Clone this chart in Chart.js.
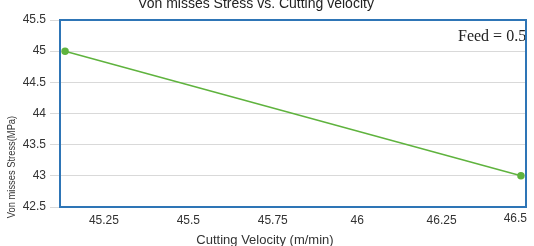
<!DOCTYPE html>
<html><head><meta charset="utf-8">
<script src="https://cdn.jsdelivr.net/npm/chart.js@4.4.1/dist/chart.umd.min.js"></script>
<style>html,body{margin:0;padding:0;background:#fff;}#wrap{width:534px;height:246px;}</style>
</head><body><div id="wrap"><canvas id="c" width="534" height="246"></canvas></div>
<script>
const velocity = [45.135, 46.485];
const stress = [45.0, 43.0];
const xTicks = [45.25, 45.5, 45.75, 46, 46.25, 46.5];
const yTicks = [42.5, 43, 43.5, 44, 44.5, 45, 45.5];
const titleText = 'Von misses Stress vs. Cutting velocity';
const xTitle = 'Cutting Velocity (m/min)';
const yTitle = 'Von misses Stress(MPa)';
const noteText = 'Feed = 0.5';
const tickFont = '12px "Liberation Sans", Arial, sans-serif';

const deco = {
  id: 'deco',
  afterDraw(chart) {
    const ctx = chart.ctx, a = chart.chartArea, xs = chart.scales.x;
    ctx.save();
    // last x tick label pulled inside the canvas
    const lastV = xTicks[xTicks.length - 1];
    ctx.fillStyle = '#333'; ctx.font = tickFont;
    ctx.textAlign = 'right'; ctx.textBaseline = 'top';
    ctx.fillText(String(lastV), xs.getPixelForValue(lastV) + 1, a.bottom + 6);
    ctx.fillStyle = '#222';
    ctx.font = '14px "Liberation Sans", Arial, sans-serif';
    ctx.textAlign = 'center'; ctx.textBaseline = 'middle';
    ctx.fillText(titleText, 256, 4);
    ctx.fillStyle = '#333';
    ctx.font = '13px "Liberation Sans", Arial, sans-serif';
    ctx.fillText(xTitle, 265, 240);
    ctx.save();
    ctx.translate(12, 167); ctx.rotate(-Math.PI/2); ctx.scale(0.85, 1);
    ctx.font = '11px "Liberation Sans", Arial, sans-serif';
    ctx.fillText(yTitle, 0, 0);
    ctx.restore();
    ctx.fillStyle = '#222';
    ctx.font = '16px "Liberation Serif", "Times New Roman", serif';
    ctx.textAlign = 'left';
    ctx.fillText(noteText, 458, 37);
    ctx.strokeStyle = '#2e75b6'; ctx.lineWidth = 2;
    ctx.strokeRect(a.left, a.top, a.right - a.left, a.bottom - a.top);
    ctx.restore();
  }
};

new Chart(document.getElementById('c'), {
  type: 'scatter',
  data: { datasets: [{
    data: velocity.map((v, i) => ({x: v, y: stress[i]})),
    showLine: true, borderColor: '#5fb33e', backgroundColor: '#5fb33e',
    borderWidth: 1.5, pointRadius: 3, pointHoverRadius: 3
  }]},
  options: {
    responsive: false, animation: false, devicePixelRatio: 1,
    layout: { padding: { top: 20, right: 8, left: 0, bottom: 0 } },
    plugins: { legend: { display: false }, tooltip: { enabled: false }, title: { display: false } },
    scales: {
      x: {
        type: 'linear', min: 45.12, max: 46.5,
        afterFit(s) { s.height = 39; s.paddingRight = 0; s.paddingLeft = 0; },
        afterBuildTicks(s) { s.ticks = xTicks.map(v => ({value: v})); },
        grid: { display: false, drawTicks: false },
        border: { display: false },
        ticks: { padding: 6, color: '#333', font: { size: 12, family: '"Liberation Sans", Arial, sans-serif' }, maxRotation: 0,
          callback: v => (v === xTicks[xTicks.length - 1] ? '' : String(v)) }
      },
      y: {
        min: 42.5, max: 45.5,
        afterFit(s) { s.width = 60; s.paddingTop = 0; s.paddingBottom = 0; },
        afterBuildTicks(s) { s.ticks = yTicks.map(v => ({value: v})); },
        grid: { color: '#d9d9d9', lineWidth: 1, tickLength: 10, drawTicks: true },
        border: { display: false },
        ticks: { padding: 4, color: '#333', font: { size: 12, family: '"Liberation Sans", Arial, sans-serif' }, callback: v => String(v) }
      }
    }
  },
  plugins: [deco]
});
</script></body></html>
